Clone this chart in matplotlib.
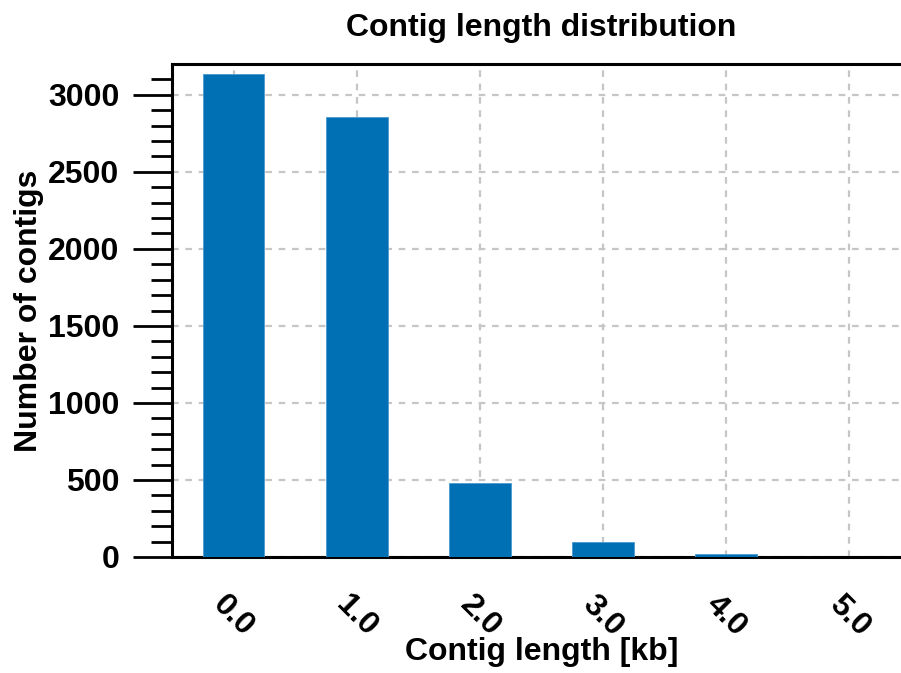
import matplotlib
matplotlib.use("Agg")
import matplotlib.pyplot as plt
from matplotlib.ticker import MultipleLocator, FixedLocator

plt.rcParams['font.family'] = ['Liberation Sans', 'DejaVu Sans']
plt.rcParams['font.weight'] = 'bold'

categories = ["0.0", "1.0", "2.0", "3.0", "4.0", "5.0"]
counts = [3137, 2858, 480, 97, 19, 1]
title = "Contig length distribution"
xlabel = "Contig length [kb]"
ylabel = "Number of contigs"

FS = 23

fig = plt.figure(figsize=(9.01, 6.73), dpi=100)
ax = fig.add_axes([172/901, 116/673, 739/901, 493/673])

x = list(range(len(categories)))
ax.bar(x, counts, width=0.5, color='#0070b4', edgecolor='#4a9ad0', linewidth=0.6, zorder=3)

ax.set_xlim(-0.5, 5.5)
ax.set_ylim(0, 3200)
ax.set_xticks(x)
ax.set_xticklabels(categories, rotation=-45, ha='center', va='top', fontsize=FS, fontweight='bold')
ax.yaxis.set_major_locator(MultipleLocator(500))
ax.yaxis.set_minor_locator(FixedLocator([v for v in range(100, 3200, 100) if v % 500 != 0]))
for lab in ax.get_yticklabels():
    lab.set_fontsize(FS)
    lab.set_fontweight('bold')

ax.tick_params(axis='x', length=0, pad=23.5)
ax.tick_params(axis='y', which='major', direction='out', length=28, width=2, pad=10, labelsize=FS)
ax.tick_params(axis='y', which='minor', direction='out', length=15, width=2)

ax.grid(True, which='major', color='#c6c6c6', linestyle=(0, (3, 3)), linewidth=1.6, zorder=0)
ax.set_axisbelow(True)

for s in ['top', 'bottom', 'left', 'right']:
    ax.spines[s].set_linewidth(2.2)
    ax.spines[s].set_color('black')

ax.set_title(title, fontsize=FS, fontweight='bold', pad=20)
ax.set_xlabel(xlabel, fontsize=FS, fontweight='bold', labelpad=-3.8)
ax.set_ylabel(ylabel, fontsize=FS, fontweight='bold', labelpad=3)

fig.savefig("out.png", dpi=100)
